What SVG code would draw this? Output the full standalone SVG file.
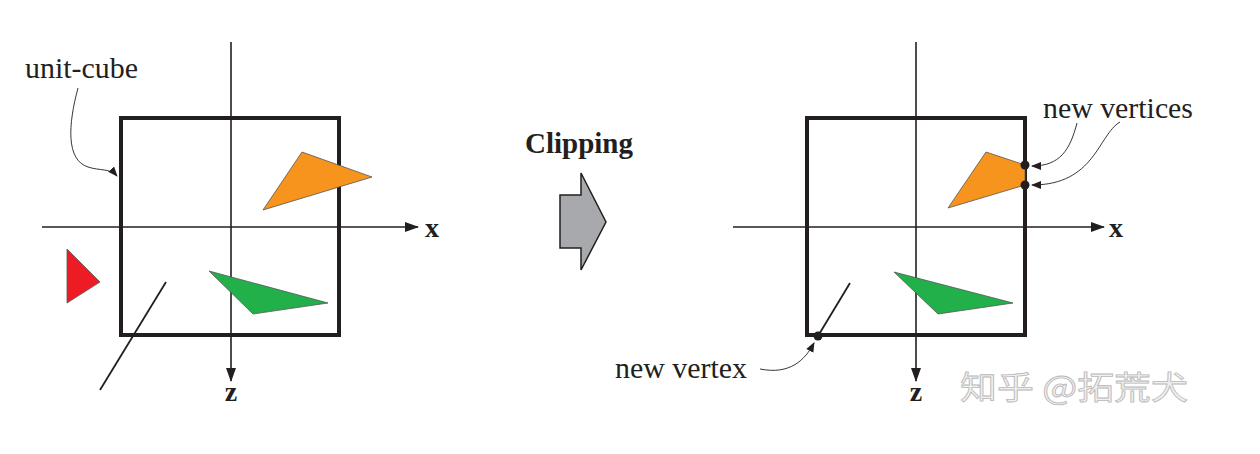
<svg xmlns="http://www.w3.org/2000/svg" width="1260" height="454" viewBox="0 0 1260 454">
<defs>
<marker id="ah" viewBox="0 0 10 10" refX="9" refY="5" markerWidth="10" markerHeight="10" markerUnits="userSpaceOnUse" orient="auto"><path d="M0,1 L10,5 L0,9 Z" fill="#231f20"/></marker>
<marker id="axh" viewBox="0 0 14 10" refX="13" refY="5" markerWidth="14" markerHeight="10" markerUnits="userSpaceOnUse" orient="auto"><path d="M0,0 L14,5 L0,10 Z" fill="#231f20"/></marker>
<style>
.cube{fill:none;stroke:#231f20;stroke-width:4}
.axis{fill:none;stroke:#231f20;stroke-width:1.6;marker-end:url(#axh)}
.lead{fill:none;stroke:#231f20;stroke-width:0.9;marker-end:url(#ah)}
.tri{stroke:#555;stroke-width:0.8}
.lbl{font-family:"Liberation Serif","Times New Roman",serif;font-size:29px;fill:#231f20}
.ax{font-family:"Liberation Serif","Times New Roman",serif;font-size:28px;font-weight:bold;fill:#231f20}
.seg{stroke:#231f20;stroke-width:1.8}
</style>
</defs>
<rect width="1260" height="454" fill="#fff"/>
<g id="left-scene">
<line class="axis" x1="42" y1="227" x2="418" y2="227"/>
<line class="axis" x1="231" y1="42" x2="231" y2="381"/>
<text class="ax" x="432" y="237" text-anchor="middle">x</text>
<text class="ax" x="231" y="401" text-anchor="middle">z</text>
<rect class="cube" x="121" y="118" width="218" height="217"/>
<polygon class="tri" points="302,152 372,177 263,210" fill="#f7941d"/>
<polygon class="tri" points="209,271 328,303 253,314" fill="#22b04b"/>
<polygon class="tri" points="67,249 100,282 67,303" fill="#ed1c24"/>
<line class="seg" x1="166" y1="282" x2="100" y2="390"/>
<text class="lbl" x="25" y="78" textLength="113" lengthAdjust="spacingAndGlyphs">unit-cube</text>
</g>
<g id="clipping">
<text class="lbl" x="525" y="153" font-weight="bold" textLength="108" lengthAdjust="spacingAndGlyphs">Clipping</text>
<polygon points="560,195 581,195 581,173 606,222 581,270 581,248 560,248" fill="#a7a9ac" stroke="#231f20" stroke-width="1.5"/>
</g>
<g id="right-scene">
<line class="axis" x1="733" y1="227" x2="1104" y2="227"/>
<line class="axis" x1="916" y1="42" x2="916" y2="381"/>
<text class="ax" x="1116" y="237" text-anchor="middle">x</text>
<text class="ax" x="916" y="401" text-anchor="middle">z</text>
<rect class="cube" x="807" y="118" width="218" height="217"/>
<polygon class="tri" points="986,152 1025,165 1025,185 948,208" fill="#f7941d"/>
<polygon class="tri" points="894,272 1013,303 938,314" fill="#22b04b"/>
<line class="seg" x1="850" y1="283" x2="818" y2="336"/>
<circle cx="1025" cy="165" r="4.5" fill="#231f20"/>
<circle cx="1025" cy="185" r="4.5" fill="#231f20"/>
<circle cx="818" cy="336" r="4.5" fill="#231f20"/>
<text class="lbl" x="1043" y="118" textLength="150" lengthAdjust="spacingAndGlyphs">new vertices</text>
<text class="lbl" x="615" y="378" textLength="132" lengthAdjust="spacingAndGlyphs">new vertex</text>
</g>
<g id="connectors">
<path class="lead" d="M78,88 C68,125 66,160 88,167 C100,171 110,168 117,176"/>
<path class="lead" d="M1077,123 C1070,150 1060,166 1032,166"/>
<path class="lead" d="M1120,122 C1098,135 1095,185 1032,185"/>
<path class="lead" d="M760,369 C790,375 805,360 814,343"/>
</g>
<text x="960" y="399" font-family="'Noto Sans CJK SC',sans-serif" font-size="32" fill="#f0f0f0" stroke="#b8b8b8" stroke-width="0.8" textLength="228" lengthAdjust="spacingAndGlyphs">知乎 @拓荒犬</text>
</svg>
